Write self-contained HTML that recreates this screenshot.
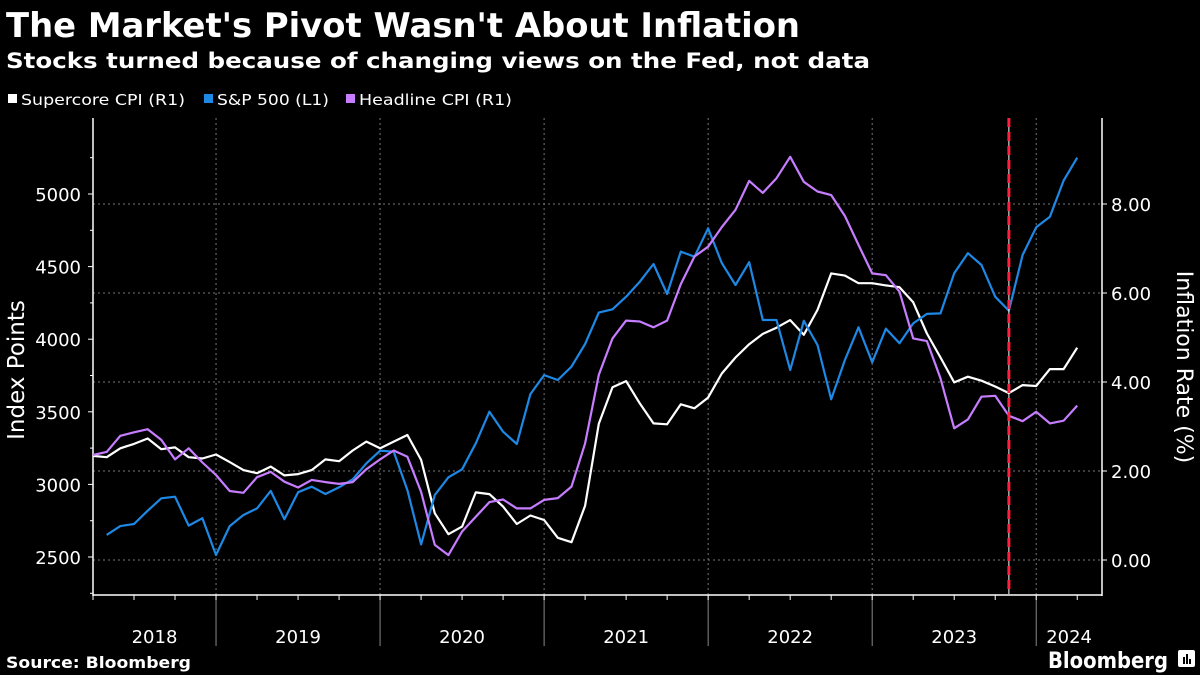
<!DOCTYPE html>
<html><head><meta charset="utf-8"><style>
html,body{margin:0;padding:0;background:#000;}
svg{display:block;font-family:"DejaVu Sans","Liberation Sans",sans-serif;}
</style></head><body>
<svg id="chart" width="1200" height="675" viewBox="0 0 1200 675" xmlns="http://www.w3.org/2000/svg">
<rect width="1200" height="675" fill="#000"/>
<text x="6" y="37" fill="#fff" font-size="34" font-weight="bold" textLength="794" lengthAdjust="spacingAndGlyphs">The Market's Pivot Wasn't About Inflation</text>
<text x="6" y="68" fill="#fff" font-size="21" font-weight="bold" textLength="864" lengthAdjust="spacingAndGlyphs">Stocks turned because of changing views on the Fed, not data</text>
<g font-size="15" fill="#fff">
<g><rect x="8" y="94" width="9" height="9" fill="#ffffff"/><text x="21" y="105" textLength="164" lengthAdjust="spacingAndGlyphs">Supercore CPI (R1)</text></g>
<g><rect x="204" y="94" width="9" height="9" fill="#1e88e5"/><text x="217" y="105" textLength="112" lengthAdjust="spacingAndGlyphs">S&amp;P 500 (L1)</text></g>
<g><rect x="346" y="94" width="9" height="9" fill="#c77dff"/><text x="359" y="105" textLength="153" lengthAdjust="spacingAndGlyphs">Headline CPI (R1)</text></g>
</g>
<g id="grid"></g>
<g id="axes"></g>
<g id="series"></g>
<text transform="translate(24,370) rotate(-90)" text-anchor="middle" fill="#fff" font-size="23">Index Points</text>
<text transform="translate(1177,367) rotate(90)" text-anchor="middle" fill="#fff" font-size="22">Inflation Rate (%)</text>
<text x="6" y="668" fill="#fff" font-size="16" font-weight="bold" textLength="185" lengthAdjust="spacingAndGlyphs">Source: Bloomberg</text>
<text x="1048" y="668" fill="#fff" font-size="22" font-weight="bold" textLength="120" lengthAdjust="spacingAndGlyphs">Bloomberg</text>
<g><rect x="1178" y="650" width="17" height="17" rx="2" fill="#fff"/><rect x="1183" y="657" width="2" height="7" fill="#000"/><rect x="1186" y="654" width="2" height="10" fill="#000"/><rect x="1189" y="659" width="2" height="5" fill="#000"/></g>
</svg>
<script>
const supercore=[2.34,2.31,2.51,2.61,2.73,2.49,2.53,2.31,2.28,2.37,2.20,2.02,1.95,2.10,1.90,1.93,2.02,2.26,2.22,2.46,2.66,2.51,2.66,2.81,2.25,1.05,0.58,0.75,1.52,1.48,1.20,0.81,1.00,0.90,0.50,0.40,1.22,3.06,3.88,4.02,3.52,3.07,3.05,3.50,3.41,3.65,4.19,4.55,4.85,5.08,5.22,5.39,5.06,5.62,6.44,6.39,6.22,6.22,6.17,6.13,5.79,5.09,4.55,3.99,4.12,4.03,3.90,3.75,3.93,3.91,4.29,4.29,4.77];
const headline=[2.36,2.43,2.79,2.87,2.94,2.70,2.26,2.51,2.19,1.91,1.55,1.51,1.86,1.98,1.76,1.63,1.80,1.75,1.71,1.75,2.04,2.26,2.46,2.32,1.53,0.34,0.11,0.64,0.97,1.30,1.36,1.16,1.16,1.35,1.39,1.65,2.62,4.16,4.98,5.38,5.36,5.23,5.38,6.20,6.82,7.04,7.48,7.87,8.52,8.25,8.58,9.06,8.50,8.28,8.20,7.73,7.08,6.44,6.40,6.03,4.98,4.92,4.08,2.96,3.16,3.67,3.69,3.24,3.12,3.33,3.07,3.13,3.47];
const sp500=[null,2652,2713,2727,2819,2904,2915,2716,2767,2514,2713,2789,2835,2955,2760,2946,2984,2934,2980,3035,3145,3232,3225,2961,2587,2927,3049,3104,3283,3501,3363,3278,3622,3753,3719,3811,3967,4183,4206,4293,4396,4518,4311,4603,4568,4764,4524,4373,4530,4132,4132,3788,4127,3960,3586,3857,4082,3841,4072,3972,4109,4174,4178,4454,4592,4511,4293,4196,4580,4771,4844,5092,5250];
const yearLabels=["2018","2019","2020","2021","2022","2023","2024"];
const leftTicks=[2500,3000,3500,4000,4500,5000];
const rightTicks=[0,2,4,6,8];
const pivotIndex=67;

const X0=93,DX=13.67,XR=1102;
const xAt=i=>X0+i*DX;
const yL=v=>557-(v-2500)*72.6/500;
const yR=v=>560-v*44.5;
const NS="http://www.w3.org/2000/svg";
function mk(tag,attrs,parent){const e=document.createElementNS(NS,tag);for(const k in attrs)e.setAttribute(k,attrs[k]);parent.appendChild(e);return e;}
const grid=document.getElementById('grid'),axes=document.getElementById('axes'),series=document.getElementById('series');

rightTicks.forEach(t=>{
  const l=mk('line',{x1:X0,x2:XR,y1:yR(t),y2:yR(t),stroke:'#777','stroke-width':1,'stroke-dasharray':'2,3'},grid);
  
  
  const tx=mk('text',{x:1111,y:yR(t)+7,fill:'#fff','font-size':18},axes);
  tx.textContent=t.toFixed(2);
  
  
  mk('line',{x1:XR,x2:XR+5,y1:yR(t),y2:yR(t),stroke:'#fff'},axes);
});
yearLabels.forEach((lab,k)=>{
  const bx=xAt(9+12*k);
  if(k<yearLabels.length-1){
    const g=mk('line',{x1:bx,x2:bx,y1:118,y2:595,stroke:'#777','stroke-width':1,'stroke-dasharray':'2,3'},grid);
    
    
    mk('line',{x1:bx,x2:bx,y1:595,y2:646,stroke:'#888','stroke-width':1},axes);
  }
  const endX=k<yearLabels.length-1?bx:XR;
  const sx=k===0?X0:xAt(9+12*(k-1));
  const t=mk('text',{x:(sx+endX)/2,y:643,fill:'#fff','font-size':18,'text-anchor':'middle'},axes);
  t.textContent=lab;
  
  
});
for(let i=0;i<=73;i+=3){const x=xAt(i);if(x<=XR)mk('line',{x1:x,x2:x,y1:595,y2:600,stroke:'#fff'},axes);}
leftTicks.forEach(t=>{
  mk('line',{x1:X0-5,x2:X0,y1:yL(t),y2:yL(t),stroke:'#fff'},axes);
  mk('line',{x1:X0-3,x2:X0,y1:yL(t+250),y2:yL(t+250),stroke:'#fff'},axes);
  const tx=mk('text',{x:81,y:yL(t)+7,fill:'#fff','font-size':18,'text-anchor':'end'},axes);
  tx.textContent=t;
  
  
});
mk('line',{x1:X0-3,x2:X0,y1:yL(2250),y2:yL(2250),stroke:'#fff'},axes);
mk('line',{x1:X0,x2:X0,y1:118,y2:596,stroke:'#fff','stroke-width':1.5},axes);
mk('line',{x1:XR,x2:XR,y1:118,y2:596,stroke:'#fff','stroke-width':1.5},axes);
mk('line',{x1:X0,x2:XR,y1:595,y2:595,stroke:'#fff','stroke-width':1.5},axes);

function path(arr,yf,color,name){
  let d='';arr.forEach((v,i)=>{if(v==null)return;d+=(d?'L':'M')+xAt(i).toFixed(1)+','+yf(v).toFixed(1);});
  const p=mk('path',{d:d,fill:'none',stroke:color,'stroke-width':2.2,'stroke-linejoin':'round'},series);
  
  
}
path(supercore,yR,'#ffffff','supercore-cpi-line');
path(sp500,yL,'#1e88e5','sp500-line');
path(headline,yR,'#c77dff','headline-cpi-line');
const px=xAt(pivotIndex);
mk('line',{x1:px,x2:px,y1:118,y2:594,stroke:'#fff','stroke-width':1},series);
const red=mk('line',{x1:px,x2:px,y1:118,y2:594,stroke:'#ff1f3d','stroke-width':3,'stroke-dasharray':'9,5'},series);


</script>
</body></html>
